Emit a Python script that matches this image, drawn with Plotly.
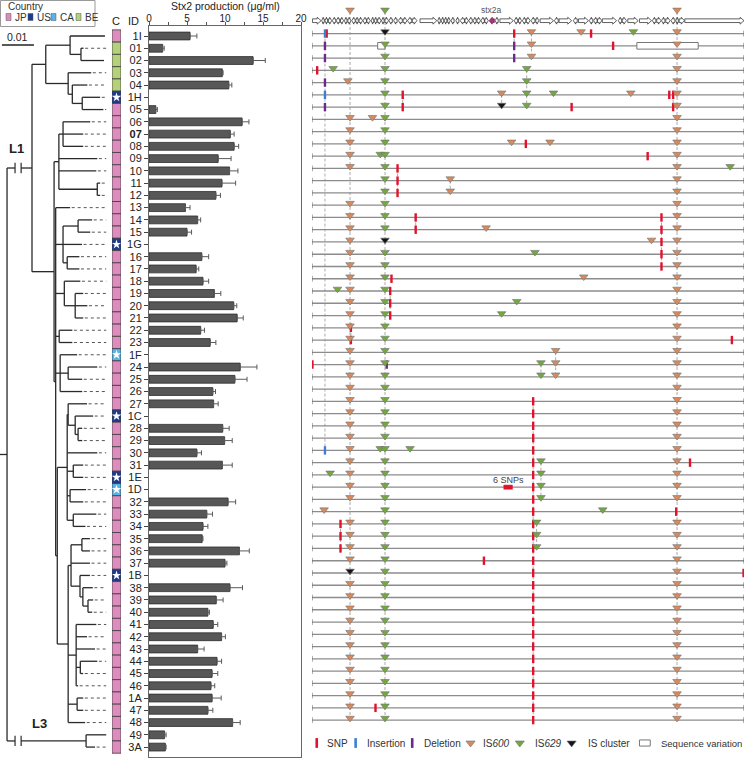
import plotly.graph_objects as go
from collections import defaultdict

W, H = 745, 758
FONT = "Liberation Sans, Arial, sans-serif"
FONT_W = "Liberation Sans, Arial, sans-serif"

# ---------------- data ----------------
IDS = ["1I", "01", "02", "03", "04", "1H", "05", "06", "07", "08", "09", "10", "11", "12", "13",
       "14", "15", "1G", "16", "17", "18", "19", "20", "21", "22", "23", "1F", "24", "25", "26",
       "27", "1C", "28", "29", "30", "31", "1E", "1D", "32", "33", "34", "35", "36", "37", "1B",
       "38", "39", "40", "41", "42", "43", "44", "45", "46", "1A", "47", "48", "49", "3A"]
BOLD_IDS = ["07"]
COUNTRY = ["JP", "BE", "BE", "BE", "BE", "US", "JP", "JP", "JP", "JP", "JP", "JP", "JP", "JP", "JP",
           "JP", "JP", "US", "JP", "JP", "JP", "JP", "JP", "JP", "JP", "JP", "CA", "JP", "JP", "JP",
           "JP", "US", "JP", "JP", "JP", "JP", "US", "CA", "JP", "JP", "JP", "JP", "JP", "JP", "US",
           "JP", "JP", "JP", "JP", "JP", "JP", "JP", "JP", "JP", "JP", "JP", "JP", "JP", "JP"]
STARRED = ["1H", "1G", "1F", "1C", "1E", "1D", "1B"]
COUNTRY_COLORS = {"JP": "#dc8dbd", "US": "#1f3b8e", "CA": "#56b4e9", "BE": "#b4d07a"}
COUNTRY_ORDER = ["JP", "US", "CA", "BE"]

STX2 = [5.4, 1.8, 13.7, 9.65, 10.5, None, 0.9, 12.25, 10.7, 11.2, 9.1, 10.6, 9.6, 8.8, 4.8,
        6.4, 5.0, None, 6.95, 6.2, 7.1, 8.6, 11.15, 11.6, 6.8, 8.05, None, 12.0, 11.3, 8.4,
        8.5, None, 9.7, 9.95, 6.3, 9.65, None, None, 10.4, 7.6, 7.1, 7.0, 11.9, 10.0, None,
        10.65, 8.85, 7.75, 8.45, 9.55, 6.4, 8.95, 8.3, 8.15, 8.3, 7.75, 11.0, 2.05, 2.15]
STX2_ERR = [0.9, 0.2, 1.6, 0.1, 0.4, None, 0.2, 0.9, 0.5, 0.6, 1.7, 1.1, 1.8, 0.6, 0.6,
            0.4, 0.6, None, 0.9, 0.35, 0.75, 0.85, 0.4, 0.8, 0.5, 0.75, None, 2.2, 1.6, 0.35,
            0.6, None, 0.85, 1.0, 0.6, 1.3, None, None, 1.0, 0.75, 0.65, 0.1, 1.3, 0.25, None,
            1.65, 0.9, 0.2, 0.6, 0.5, 0.85, 0.6, 0.75, 0.5, 1.2, 0.65, 1.0, 0.2, 0.1]

# phylogeny (branch lengths in 1e-3 substitutions/site)
T_AUP = "(1I:10.9,(01:0.8,02:7.2):3.4)"
T_ALOW = "(03:7.2,(04:4.7,(1H:5.6,05:6.6):3.1):1.3)"
T_B1 = "((06:8.5,07:6.3,08:6.3):1.3,09:12.0,10:11.7,(11:0.9,12:0.9):12.0)"
T_C14 = "((14:4.4,15:3.8):4.7,1G:5.9,(16:3.8,17:3.8):1.3)"
T_C18 = "(18:5.0,(19:2.5,20:3.8,21:2.5):3.4)"
T_C22 = "(22:4.1,23:4.1)"
T_C1F = "(1F:5.3,(24:9.1,25:4.4):2.5,26:6.9)"
T_C27 = ("((27:5.9,(1C:5.6,(28:1.3,29:1.3):0.9):2.2):0.3,30:9.4,(31:3.1,1E:3.1):1.9,"
         "(1D:5.0,32:4.1):0.9,(33:7.2,34:3.8):1.9)")
T_C35 = ("(((35:2.5,36:2.5):3.4,37:5.9,(1B:3.1,(38:3.1,(39:1.6,40:1.3):1.6):0.9):2.8):0.9,"
         "(41:6.3,42:3.4,43:5.9,(44:5.3,45:0.9):1.3,46:0.6):2.5,(1A:1.9,47:1.9):2.8,48:5.3)")
T_BDEEP = f"({T_C27}:3.1,{T_C35}:3.4)"
T_BREST = f"(13:4.5,{T_C14}:2.3,{T_C18}:2.7,{T_C22}:1.1,{T_C1F}:1.4,{T_BDEEP}:0.5)"
T_B = f"({T_B1}:1.5,{T_BREST}:0.5)"
T_A = f"({T_AUP}:7.6,{T_ALOW}:7.0)"
T_L1 = f"({T_A}:4.3,{T_B}:6.9)L1:7.8"
T_L3 = "(49:6.3,3A:2.8)L3:24.7"
NEWICK = f"({T_L1},{T_L3})root:2.2;"
TRUNCATED = ["L1", "L3"]
SCALE_BAR = 10.0  # = 0.01 substitutions/site

# prophage map (positions as % of prophage length)
GENOME_IDS = IDS[:57]
GENES = [(0.1, 2.1, 1), (2.24, 2.85, -1), (3.0, 3.6, -1), (3.8, 4.55, 1), (4.7, 5.5, -1), (5.6, 6.4, -1),
         (6.6, 7.3, 1), (7.5, 8.1, -1), (8.3, 9.0, 1), (9.2, 10.0, -1), (10.1, 10.7, -1), (10.9, 11.7, 1),
         (11.8, 12.6, -1), (12.7, 13.5, 1), (13.7, 14.3, -1), (14.4, 15.0, -1), (15.2, 16.0, 1),
         (16.1, 16.7, -1), (16.9, 17.7, 1), (17.8, 18.6, -1), (18.9, 19.7, -1), (20.0, 20.9, -1),
         (21.1, 22.0, 1), (22.1, 23.1, -1), (23.2, 24.3, 1), (25.0, 28.9, 1), (29.1, 29.7, -1),
         (29.9, 30.5, -1), (30.6, 31.2, -1), (31.4, 32.0, 1), (32.2, 32.9, -1), (33.3, 34.0, -1),
         (34.3, 35.3, -1), (35.4, 36.2, 1), (36.3, 37.1, -1), (37.3, 38.0, -1), (38.2, 39.0, 1),
         (39.1, 39.9, -1), (40.0, 40.8, 1), (42.4, 43.1, -1), (43.5, 46.6, 1), (46.8, 47.6, -1),
         (47.8, 48.5, 1), (48.7, 49.5, -1), (49.6, 50.5, 1), (50.7, 51.6, -1), (51.8, 52.5, 1),
         (52.8, 55.9, 1), (56.1, 57.0, -1), (57.2, 60.1, 1), (60.5, 61.4, -1), (61.7, 64.0, 1),
         (64.2, 65.0, -1), (65.2, 66.0, -1), (66.1, 67.1, 1), (67.2, 70.5, 1), (70.9, 71.7, -1),
         (71.8, 72.8, 1), (73.1, 75.5, 1), (75.8, 78.6, 1), (78.8, 79.6, -1), (79.8, 80.8, 1),
         (80.9, 81.7, -1), (81.9, 82.9, 1), (83.1, 84.0, -1), (84.2, 84.8, -1), (85.0, 86.2, 1),
         (86.3, 100.0, 1)]
STX2A_GENE = (41.0, 42.2, -1)
REF_IS600 = [8.8, 84.5]
REF_IS629 = [16.9]

IS600 = {"1I": [50.8, 62.3, 84.5], "01": [50.8, 84.5], "02": [50.8, 84.5], "03": [84.5], "04": [8.3, 84.5],
         "1H": [43.9, 73.8, 84.5], "05": [84.5], "06": [8.8, 14.0, 84.5], "07": [8.8, 84.5],
         "08": [8.8, 46.2, 55.1, 84.5], "09": [8.8, 84.5], "10": [8.8, 84.5], "11": [32.0, 84.5],
         "12": [32.0, 84.5], "13": [8.8, 84.5], "14": [8.8, 84.5], "15": [8.8, 40.3, 84.5],
         "1G": [8.8, 78.6, 84.5], "16": [8.8, 84.5], "17": [8.8, 84.5], "18": [8.8, 62.9, 84.5],
         "19": [8.8, 84.5], "20": [8.8, 84.5], "21": [8.8, 84.5], "22": [8.8, 84.5], "23": [8.8, 84.5],
         "1F": [8.8, 56.4, 84.5], "24": [8.8, 56.4, 84.5], "25": [8.8, 56.4, 84.5], "26": [8.8, 84.5],
         "27": [8.8, 84.5], "1C": [8.8, 84.5], "28": [8.8, 84.5], "29": [8.8, 84.5], "30": [8.8, 84.5],
         "31": [8.8, 84.5], "1E": [8.8, 84.5], "1D": [8.8, 84.5], "32": [8.8, 84.5], "33": [2.8],
         "34": [8.8, 84.5], "35": [8.8, 84.5], "36": [8.8, 84.5], "37": [8.8, 84.5], "1B": [84.5],
         "38": [8.8, 84.5], "39": [8.8, 84.5], "40": [8.8, 84.5], "41": [8.8, 84.5], "42": [8.8, 84.5],
         "43": [8.8, 84.5], "44": [8.8, 84.5], "45": [8.8, 84.5], "46": [8.8, 84.5], "1A": [8.8, 84.5],
         "47": [8.8, 84.5], "48": [8.8, 84.5]}
IS629 = {"1I": [74.4], "01": [16.9], "02": [16.9], "03": [4.9, 16.9, 49.7], "04": [16.9, 49.7],
         "1H": [16.9, 49.7, 55.9], "05": [16.9, 49.7], "06": [16.9], "07": [16.9], "08": [16.9],
         "09": [15.8, 16.9], "10": [16.9, 96.8], "11": [16.9], "12": [16.9], "13": [16.9], "14": [16.9],
         "15": [16.9], "16": [16.9, 51.6], "17": [16.9], "18": [16.9], "19": [5.9, 16.9], "20": [16.9, 47.4],
         "21": [16.9, 43.9], "22": [16.9], "23": [16.9], "1F": [16.9], "24": [16.9, 53.0], "25": [16.9, 53.0],
         "26": [16.9], "27": [16.9], "1C": [16.9], "28": [16.9], "29": [16.9], "30": [15.8, 16.9, 22.7],
         "31": [16.9, 53.0], "1E": [4.2, 16.9, 53.0], "1D": [16.9, 53.0], "32": [16.9, 53.0],
         "33": [16.9, 67.3], "34": [16.9, 52.0], "35": [16.9, 52.0], "36": [16.9, 52.0], "37": [16.9],
         "1B": [16.9], "38": [16.9], "39": [16.9], "40": [16.9], "41": [16.9], "42": [16.9], "43": [16.9],
         "44": [16.9], "45": [16.9], "46": [16.9], "1A": [16.9], "47": [16.9], "48": [16.9]}
IS_CLUSTER = {"1I": [16.9], "05": [43.9], "1G": [16.9], "1B": [8.8]}
SNP = {"1I": [3.4, 46.8, 64.6], "01": [69.7], "03": [1.2], "1H": [21.0, 82.7, 83.6], "05": [21.0, 60.1, 83.6],
       "08": [49.5], "09": [77.7], "10": [19.8], "11": [19.8], "12": [19.8], "14": [24.0, 80.9],
       "15": [24.0, 80.9], "1G": [80.9], "16": [80.9], "17": [80.9], "18": [18.4], "19": [18.1],
       "20": [18.1], "21": [18.1], "22": [9.0], "23": [9.0, 97.2], "24": [0.1], "27": [51.2], "1C": [51.2],
       "28": [51.2], "29": [51.2], "30": [51.2], "31": [51.2, 87.5], "1E": [51.2], "1D": [51.2],
       "32": [51.2], "33": [51.2, 84.3], "34": [6.6, 51.2], "35": [6.6, 51.2], "36": [6.6, 51.2],
       "37": [39.8, 51.2], "1B": [51.2, 99.9], "38": [51.2], "39": [51.2], "40": [51.2], "41": [51.2],
       "42": [51.2], "43": [51.2], "44": [51.2], "45": [51.2], "46": [51.2], "1A": [51.2],
       "47": [14.7, 51.2], "48": [51.2]}
INSERTION = {"1I": [3.0], "1H": [3.0], "30": [3.0]}
DELETION = {"01": [3.0, 46.8], "02": [3.0, 46.8], "04": [3.0], "05": [3.0], "24": [17.3]}
SEQ_VARIATION = {"01": [(15.2, 16.9), (75.2, 89.4)]}
SNP_BLOCKS = {"1D": [(44.4, 46.4, "6 SNPs")]}
MAIN_GUIDES = [(3.0, "1I", "30", False), (8.8, None, "48", True), (16.9, None, "48", True), (84.5, None, "48", True)]

COL_SNP, COL_INS, COL_DEL = "#e2112c", "#3d7fd6", "#6b2a8c"
COL_IS600, COL_IS629, COL_ISC = "#d98a5c", "#72a83c", "#151515"

# ---------------- geometry helpers (layout) ----------------
ROW0, STEP = 36.0, 12.26          # pixel y of first row and row spacing
TREE_PX = 3.2                     # px per tree unit


def px2row(py):
    return (py - ROW0) / STEP


ROW = {k: i for i, k in enumerate(IDS)}
GROW = {k: i for i, k in enumerate(GENOME_IDS)}


def gy(r):
    return r - 0.2


# ---------------- tree ----------------
def parse_newick(s):
    pos = 0

    def node():
        nonlocal pos
        kids = []
        if s[pos] == "(":
            pos += 1
            while True:
                kids.append(node())
                ch = s[pos]
                pos += 1
                if ch == ")":
                    break
        name = ""
        while s[pos] not in ",():;":
            name += s[pos]
            pos += 1
        length = 0.0
        if s[pos] == ":":
            pos += 1
            num = ""
            while s[pos] not in ",();":
                num += s[pos]
                pos += 1
            length = float(num)
        return {"name": name, "len": length, "kids": kids}

    return node()


tree = parse_newick(NEWICK)


def place(n, px):
    n["px"] = px
    n["x"] = px + n["len"]
    for c in n["kids"]:
        place(c, n["x"])
    if n["kids"]:
        n["y"] = (n["kids"][0]["y"] + n["kids"][-1]["y"]) / 2
    else:
        n["y"] = ROW[n["name"]]


place(tree, 0.0)

tx, ty, bx, by = [], [], [], []
leaves, named = [], {}


def draw(n):
    named[n["name"]] = n
    y = n["y"]
    if n["name"] in TRUNCATED:
        b1, b2 = n["px"] + 2.5, n["px"] + 4.4
        tx.extend([n["px"], b1, None, b2, n["x"], None])
        ty.extend([y, y, None, y, y, None])
        bx.extend([b1, b1, None, b2, b2, None])
        by.extend([y - 0.42, y + 0.42, None, y - 0.42, y + 0.42, None])
    else:
        tx.extend([n["px"], n["x"], None])
        ty.extend([y, y, None])
    if n["kids"]:
        tx.extend([n["x"], n["x"], None])
        ty.extend([n["kids"][0]["y"], n["kids"][-1]["y"], None])
        for c in n["kids"]:
            draw(c)
    else:
        leaves.append(n)


draw(tree)
align = max(l["x"] for l in leaves)
dx, dy = [], []
for l in leaves:
    if align - l["x"] > 0.8:
        dx.extend([l["x"] + 0.5, align, None])
        dy.extend([l["y"], l["y"], None])

fig = go.Figure()
fig.add_trace(go.Scatter(x=dx, y=dy, mode="lines", line=dict(color="#555", width=1, dash="dot"),
                         xaxis="x", yaxis="y", hoverinfo="skip"))
fig.add_trace(go.Scatter(x=tx, y=ty, mode="lines", line=dict(color="#2a2a2a", width=1.3),
                         xaxis="x", yaxis="y", hoverinfo="skip"))
fig.add_trace(go.Scatter(x=bx, y=by, mode="lines", line=dict(color="#2a2a2a", width=1.2),
                         xaxis="x", yaxis="y", hoverinfo="skip"))
sb_y = px2row(45)
fig.add_trace(go.Scatter(x=[0.6, 0.6 + SCALE_BAR], y=[sb_y, sb_y], mode="lines",
                         line=dict(color="#222", width=1.3), xaxis="x", yaxis="y", hoverinfo="skip"))

# ---------------- country column ----------------
rows = list(range(len(IDS)))
fig.add_trace(go.Bar(x=[1] * len(IDS), y=rows, base=0, orientation="h", width=1.0,
                     marker=dict(color=[COUNTRY_COLORS[c] for c in COUNTRY], line=dict(color="#3c3c3c", width=0.8)),
                     xaxis="x4", yaxis="y", hoverinfo="skip"))
fig.add_trace(go.Scatter(x=[0.5] * len(STARRED), y=[ROW[s] for s in STARRED], mode="markers",
                         marker=dict(symbol="star", size=7, color="white", line=dict(width=0)),
                         xaxis="x4", yaxis="y", hoverinfo="skip"))

# ---------------- Stx2 bars ----------------
fig.add_trace(go.Bar(x=STX2, y=rows, orientation="h", width=0.64,
                     marker=dict(color="#575757", line=dict(color="#2d2d2d", width=0.8)),
                     error_x=dict(type="data", array=[e if e is not None else 0 for e in STX2_ERR],
                                  arrayminus=[0] * len(IDS), symmetric=False, color="#5a5a5a",
                                  thickness=1, width=2.5),
                     xaxis="x2", yaxis="y2", hoverinfo="skip"))

# ---------------- prophage map ----------------
n_g = len(GENOME_IDS)
gx, gyy = [], []
for pos, r_from, r_to, from_top in MAIN_GUIDES:
    y0 = px2row(12) if from_top else gy(GROW[r_from])
    gx.extend([pos, pos, None])
    gyy.extend([y0, gy(GROW[r_to]), None])
col_rows = defaultdict(set)
for d in (IS600, IS629, IS_CLUSTER, SNP, INSERTION, DELETION):
    for k, poss in d.items():
        for p in poss:
            col_rows[p].add(GROW[k])
main_pos = {g[0] for g in MAIN_GUIDES}
for p, rs in col_rows.items():
    if p in main_pos:
        continue
    rs = sorted(rs)
    start = prev = rs[0]
    for r in rs[1:] + [None]:
        if r is not None and r == prev + 1:
            prev = r
            continue
        if prev > start:
            gx.extend([p, p, None])
            gyy.extend([gy(start), gy(prev), None])
        if r is not None:
            start = prev = r
fig.add_trace(go.Scatter(x=gx, y=gyy, mode="lines", line=dict(color="#ababab", width=1, dash="3px,2px"),
                         xaxis="x3", yaxis="y", hoverinfo="skip"))

lx, ly, ex, ey = [], [], [], []
for r in range(n_g):
    lx.extend([0, 100, None])
    ly.extend([gy(r), gy(r), None])
    ex.extend([0, 0, None, 100, 100, None])
    ey.extend([gy(r) - 0.24, gy(r) + 0.24, None, gy(r) - 0.24, gy(r) + 0.24, None])
fig.add_trace(go.Scatter(x=lx, y=ly, mode="lines", line=dict(color="#8c8c8c", width=1.3),
                         xaxis="x3", yaxis="y", hoverinfo="skip"))
fig.add_trace(go.Scatter(x=ex, y=ey, mode="lines", line=dict(color="#666", width=1),
                         xaxis="x3", yaxis="y", hoverinfo="skip"))

GY = px2row(20.7)
HH, BH = 0.28, 0.15


def arrow(s, e, strand):
    hl = min(0.9, 0.6 * (e - s))
    if strand > 0:
        xs = [s, e - hl, e - hl, e, e - hl, e - hl, s, s]
    else:
        xs = [e, s + hl, s + hl, s, s + hl, s + hl, e, e]
    ys = [GY - BH, GY - BH, GY - HH, GY, GY + HH, GY + BH, GY + BH, GY - BH]
    return xs, ys


ax_, ay_ = [], []
for s, e, st in GENES:
    xs, ys = arrow(s, e, st)
    ax_ += xs + [None]
    ay_ += ys + [None]
fig.add_trace(go.Scatter(x=ax_, y=ay_, mode="lines", fill="toself", fillcolor="white",
                         line=dict(color="#3a3a3a", width=0.8), xaxis="x3", yaxis="y", hoverinfo="skip"))
xs, ys = arrow(*STX2A_GENE)
fig.add_trace(go.Scatter(x=xs, y=ys, mode="lines", fill="toself", fillcolor="#b2307c",
                         line=dict(color="#7a1f55", width=0.8), xaxis="x3", yaxis="y", hoverinfo="skip"))

sx, sy = [], []
for k, spans in SEQ_VARIATION.items():
    y = gy(GROW[k])
    for a, b in spans:
        sx += [a, b, b, a, a, None]
        sy += [y - 0.27, y - 0.27, y + 0.27, y + 0.27, y - 0.27, None]
fig.add_trace(go.Scatter(x=sx, y=sy, mode="lines", fill="toself", fillcolor="white",
                         line=dict(color="#777", width=1), xaxis="x3", yaxis="y", hoverinfo="skip"))
kx, ky = [], []
annots = []
for k, spans in SNP_BLOCKS.items():
    y = gy(GROW[k])
    for a, b, lab in spans:
        kx += [a, b, b, a, a, None]
        ky += [y - 0.17, y - 0.17, y + 0.17, y + 0.17, y - 0.17, None]
        annots.append(dict(x=(a + b) / 2, y=y - 0.6, xref="x3", yref="y", text=lab, showarrow=False,
                           xanchor="center", yanchor="middle", font=dict(size=9, color="#444", family=FONT_W)))
fig.add_trace(go.Scatter(x=kx, y=ky, mode="lines", fill="toself", fillcolor=COL_SNP,
                         line=dict(color=COL_SNP, width=0.5), xaxis="x3", yaxis="y", hoverinfo="skip"))


def collect(d, dyoff=0.0):
    xs_, ys_ = [], []
    for k, poss in d.items():
        for p in poss:
            xs_.append(p)
            ys_.append(gy(GROW[k]) + dyoff)
    return xs_, ys_


for d, col in ((SNP, COL_SNP), (INSERTION, COL_INS), (DELETION, COL_DEL)):
    xs_, ys_ = collect(d)
    fig.add_trace(go.Scatter(x=xs_, y=ys_, mode="markers",
                             marker=dict(symbol="line-ns", size=6, line=dict(width=2.4, color=col)),
                             xaxis="x3", yaxis="y", hoverinfo="skip"))

TRI_DY = -0.16
top_y = px2row(10)
for d, ref, col in ((IS600, REF_IS600, COL_IS600), (IS629, REF_IS629, COL_IS629), (IS_CLUSTER, [], COL_ISC)):
    xs_, ys_ = collect(d, TRI_DY)
    xs_ += ref
    ys_ += [top_y] * len(ref)
    fig.add_trace(go.Scatter(x=xs_, y=ys_, mode="markers",
                             marker=dict(symbol="triangle-down", size=7.5, color=col,
                                         line=dict(width=0.6, color="#707070")),
                             xaxis="x3", yaxis="y", hoverinfo="skip"))

LEG_Y = px2row(743)
leg_items = [("SNP", "line-ns", COL_SNP, 1.1, 3.0), ("Insertion", "line-ns", COL_INS, 10.1, 12.3),
             ("Deletion", "line-ns", COL_DEL, 23.2, 25.4), ("IS<i>600</i>", "triangle-down", COL_IS600, 36.7, 39.1),
             ("IS<i>629</i>", "triangle-down", COL_IS629, 48.1, 51.2),
             ("IS cluster", "triangle-down", COL_ISC, 60.1, 63.4)]
for lab, sym, col, mx, txx in leg_items:
    if sym == "line-ns":
        mk = dict(symbol=sym, size=7, line=dict(width=2.6, color=col))
    else:
        mk = dict(symbol=sym, size=8, color=col, line=dict(width=0.6, color="#707070"))
    fig.add_trace(go.Scatter(x=[mx], y=[LEG_Y], mode="markers", marker=mk, xaxis="x3", yaxis="y",
                             hoverinfo="skip"))
    annots.append(dict(x=txx, y=LEG_Y, xref="x3", yref="y", text=lab, showarrow=False, xanchor="left",
                       yanchor="middle", font=dict(size=10, color="#333", family=FONT_W)))
fig.add_trace(go.Scatter(x=[75.8, 78.3, 78.3, 75.8, 75.8], y=[LEG_Y - 0.25, LEG_Y - 0.25, LEG_Y + 0.25,
                                                           LEG_Y + 0.25, LEG_Y - 0.25],
                         mode="lines", line=dict(color="#777", width=1), xaxis="x3", yaxis="y",
                         hoverinfo="skip"))
annots.append(dict(x=80.3, y=LEG_Y, xref="x3", yref="y", text="Sequence variation", showarrow=False,
                   xanchor="left", yanchor="middle", font=dict(size=9.5, color="#333", family=FONT_W)))
annots.append(dict(x=(STX2A_GENE[0] + STX2A_GENE[1]) / 2, y=top_y, xref="x3", yref="y", text="stx2a",
                   showarrow=False, xanchor="center", yanchor="middle",
                   font=dict(size=8.5, color="#555", family=FONT_W)))


def pxx(px):
    return px / W


def pxy(py):
    return 1 - py / H


annots += [
    dict(x=pxx(116), y=pxy(21), xref="paper", yref="paper", text="C", showarrow=False,
         xanchor="center", yanchor="middle", font=dict(size=11, color="#222", family=FONT)),
    dict(x=pxx(133), y=pxy(21), xref="paper", yref="paper", text="ID", showarrow=False,
         xanchor="center", yanchor="middle", font=dict(size=11, color="#222", family=FONT)),
    dict(x=pxx(225), y=pxy(5.5), xref="paper", yref="paper", text="Stx2 production (μg/ml)", showarrow=False,
         xanchor="center", yanchor="middle", font=dict(size=10.5, color="#222", family=FONT)),
    dict(x=0.6 + SCALE_BAR / 2, y=px2row(37), xref="x", yref="y", text="0.01", showarrow=False,
         xanchor="center", yanchor="middle", font=dict(size=10.5, color="#222", family=FONT)),
    dict(x=named["root"]["x"] + 3.0, y=named["L1"]["y"], xref="x", yref="y", text="<b>L1</b>",
         showarrow=False, xanchor="center", yanchor="middle", yshift=20,
         font=dict(size=13, color="#222", family=FONT_W)),
    dict(x=named["root"]["x"] + 10.0, y=named["L3"]["y"], xref="x", yref="y", text="<b>L3</b>",
         showarrow=False, xanchor="center", yanchor="middle", yshift=17,
         font=dict(size=13, color="#222", family=FONT_W)),
    dict(x=pxx(6), y=pxy(6), xref="paper", yref="paper", text="Country", showarrow=False, xanchor="left",
         yanchor="middle", font=dict(size=10, color="#333", family=FONT_W)),
]
shapes = [dict(type="rect", xref="paper", yref="paper", x0=pxx(0.5), x1=pxx(95), y0=pxy(26.5), y1=pxy(0.5),
               line=dict(color="#999", width=1), fillcolor="rgba(0,0,0,0)")]
leg_px = [(6, 12.5), (28, 34.5), (51, 57.5), (76, 82.5)]
for (sqx, txx), c in zip(leg_px, COUNTRY_ORDER):
    shapes.append(dict(type="rect", xref="paper", yref="paper", x0=pxx(sqx), x1=pxx(sqx + 5),
                       y0=pxy(20.5), y1=pxy(13.5), fillcolor=COUNTRY_COLORS[c], line=dict(color="#555", width=0.5)))
    annots.append(dict(x=pxx(txx), y=pxy(17), xref="paper", yref="paper", text=c, showarrow=False,
                       xanchor="left", yanchor="middle", font=dict(size=10, color="#333", family=FONT_W)))

ticktext = [f"<b>{i}</b>" if i in BOLD_IDS else i for i in IDS]

fig.update_layout(
    width=W, height=H, margin=dict(l=0, r=0, t=0, b=0), template="none", showlegend=False,
    paper_bgcolor="white", plot_bgcolor="rgba(0,0,0,0)", barmode="overlay",
    font=dict(family=FONT, color="#222"),
    xaxis=dict(domain=[0, 1], range=[0, W / TREE_PX], visible=False, anchor="y"),
    yaxis=dict(domain=[0, 1], range=[px2row(H), px2row(0)], visible=False, anchor="x"),
    xaxis2=dict(domain=[pxx(149), pxx(301)], anchor="y2", side="top", range=[0, 20], tickvals=[0, 5, 10, 15, 20],
                ticks="outside", ticklen=3, tickwidth=1, tickcolor="#555", showline=True, linecolor="#666",
                linewidth=1, mirror=True, showgrid=False, zeroline=False, automargin=False,
                ticklabelstandoff=-4,
                tickfont=dict(size=10, color="#222", family=FONT),
                minor=dict(tickvals=[2.5, 7.5, 12.5, 17.5], ticks="outside", ticklen=3, tickcolor="#555")),
    yaxis2=dict(domain=[pxy(757), pxy(26)], anchor="x2", range=[px2row(757), px2row(26)],
                tickvals=rows, ticktext=ticktext, ticks="outside", ticklen=4, tickcolor="#444",
                showline=True, linecolor="#666", linewidth=1, mirror=True, showgrid=False, zeroline=False,
                automargin=False, tickfont=dict(size=11, color="#222", family=FONT)),
    xaxis3=dict(domain=[pxx(312), pxx(744)], range=[0, 100], visible=False, anchor="y"),
    xaxis4=dict(domain=[pxx(112), pxx(121)], range=[0, 1], visible=False, anchor="y"),
    annotations=annots, shapes=shapes,
)

fig.write_html("out.html", config={"displayModeBar": False},
               post_script="document.body.style.margin='0';document.body.style.overflow='hidden';")
